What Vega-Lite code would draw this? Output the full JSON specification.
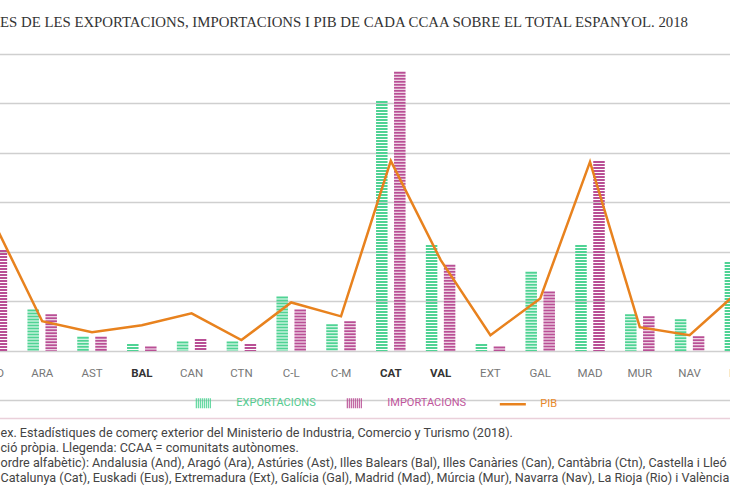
{
  "$schema": "https://vega.github.io/schema/vega-lite/v6.json",
  "width": 846.6,
  "height": 364,
  "autosize": {"type": "none"},
  "padding": {"left": -32.5, "top": 54, "right": -84.1, "bottom": 82},
  "background": "white",
  "title": {
    "text": "ES DE LES EXPORTACIONS, IMPORTACIONS I PIB DE CADA CCAA SOBRE EL TOTAL ESPANYOL. 2018",
    "anchor": "start",
    "frame": "group",
    "dx": 32.5,
    "offset": 12,
    "baseline": "alphabetic",
    "font": "Liberation Serif",
    "fontSize": 14.8,
    "fontWeight": "normal",
    "color": "#333333"
  },
  "data": {
    "values": [
      {"ccaa": "AND", "exp": 10.5, "imp": 10.2, "pib": 13.3},
      {"ccaa": "ARA", "exp": 4.2, "imp": 3.7, "pib": 3.0},
      {"ccaa": "AST", "exp": 1.45, "imp": 1.45, "pib": 1.9},
      {"ccaa": "BAL", "exp": 0.7, "imp": 0.45, "pib": 2.6},
      {"ccaa": "CAN", "exp": 0.95, "imp": 1.2, "pib": 3.8},
      {"ccaa": "CTN", "exp": 0.95, "imp": 0.7, "pib": 1.1},
      {"ccaa": "C-L", "exp": 5.5, "imp": 4.2, "pib": 4.9},
      {"ccaa": "C-M", "exp": 2.7, "imp": 3.0, "pib": 3.5},
      {"ccaa": "CAT", "exp": 25.25, "imp": 28.2, "pib": 19.2},
      {"ccaa": "VAL", "exp": 10.7, "imp": 8.7, "pib": 9.2},
      {"ccaa": "EXT", "exp": 0.7, "imp": 0.45, "pib": 1.6},
      {"ccaa": "GAL", "exp": 8.0, "imp": 6.0, "pib": 5.3},
      {"ccaa": "MAD", "exp": 10.7, "imp": 19.2, "pib": 19.1},
      {"ccaa": "MUR", "exp": 3.7, "imp": 3.5, "pib": 2.4},
      {"ccaa": "NAV", "exp": 3.2, "imp": 1.5, "pib": 1.6},
      {"ccaa": "EUS", "exp": 9.0, "imp": 7.4, "pib": 6.1},
      {"ccaa": "RIO", "exp": 0.7, "imp": 0.5, "pib": 0.7}
    ]
  },
  "encoding": {
    "x": {
      "field": "ccaa",
      "type": "nominal",
      "sort": null,
      "scale": {
        "domain": ["AND", "ARA", "AST", "BAL", "CAN", "CTN", "C-L", "C-M", "CAT", "VAL", "EXT", "GAL", "MAD", "MUR", "NAV", "EUS", "RIO"],
        "paddingInner": 0,
        "paddingOuter": 0
      },
      "axis": {
        "orient": "bottom",
        "labelAngle": 0,
        "ticks": false,
        "tickSize": 0,
        "labelPadding": -41.3,
        "labelBaseline": "alphabetic",
        "labelFont": "Roboto",
        "labelFontSize": 11.5,
        "labelFontWeight": {"condition": {"test": "indexof(['BAL','CAT','VAL'], datum.value) >= 0", "value": "bold"}, "value": "normal"},
        "labelColor": {"condition": {"test": "indexof(['BAL','CAT','VAL'], datum.value) >= 0", "value": "#333333"}, "value": "#777777"},
        "domain": true,
        "domainColor": "#ead0da",
        "domainWidth": 1.5,
        "grid": false,
        "title": [
          "ex. Estadístiques de comerç exterior del Ministerio de Industria, Comercio y Turismo (2018).",
          "ció pròpia. Llegenda: CCAA = comunitats autònomes.",
          "ordre alfabètic): Andalusia (And), Aragó (Ara), Astúries (Ast), Illes Balears (Bal), Illes Canàries (Can), Cantàbria (Ctn), Castella i Lleó (C-L),",
          " Catalunya (Cat), Euskadi (Eus), Extremadura (Ext), Galícia (Gal), Madrid (Mad), Múrcia (Mur), Navarra (Nav), La Rioja (Rio) i València (Val)."
        ],
        "titleX": 32.5,
        "titleY": 18,
        "titleAlign": "left",
        "titleAnchor": "start",
        "titleBaseline": "alphabetic",
        "titleAngle": 0,
        "titleFont": "Roboto",
        "titleFontSize": 12.6,
        "titleFontWeight": "normal",
        "titleColor": "#444444",
        "titleLineHeight": 15
      }
    }
  },
  "layer": [
    {
      "mark": {"type": "rule", "xOffset": -9, "strokeWidth": 11.5, "strokeDash": [2, 1], "strokeCap": "butt"},
      "encoding": {
        "y": {"field": "exp", "type": "quantitative", "title": null, "scale": {"domain": [-6.77, 30], "nice": false, "zero": false}},
        "y2": {"datum": 0},
        "stroke": {
          "datum": "EXPORTACIONS",
          "type": "nominal",
          "scale": {"domain": ["EXPORTACIONS", "IMPORTACIONS", "PIB"], "range": ["#4fd394", "#b94f95", "#e8821e"]},
          "legend": {
            "orient": "none",
            "legendX": 234.8,
            "legendY": 343.5,
            "direction": "horizontal",
            "columns": 3,
            "title": null,
            "padding": 0,
            "symbolSize": 576,
            "labelOffset": 23,
            "columnPadding": 28,
            "labelFont": "Roboto",
            "labelFontSize": 11,
            "labelLimit": 200,
            "encode": {
              "symbols": {
                "update": {
                  "shape": {"signal": "datum.value === 'PIB' ? 'M-1,0H1.17' : 'M-0.958,-0.417V0.417M-0.792,-0.417V0.417M-0.625,-0.417V0.417M-0.458,-0.417V0.417M-0.292,-0.417V0.417M-0.125,-0.417V0.417M0.042,-0.417V0.417M0.208,-0.417V0.417'"},
                  "strokeWidth": {"signal": "datum.value === 'PIB' ? 2.5 : 1.1"},
                  "fill": {"value": "transparent"},
                  "opacity": {"value": 1}
                }
              },
              "labels": {
                "update": {
                  "fill": {"signal": "datum.value === 'PIB' ? '#e8892c' : datum.value === 'EXPORTACIONS' ? '#55cc90' : '#c0559c'"}
                }
              }
            }
          }
        }
      }
    },
    {
      "mark": {"type": "rule", "xOffset": 9, "strokeWidth": 11.5, "strokeDash": [2, 1], "strokeCap": "butt"},
      "encoding": {
        "y": {"field": "imp", "type": "quantitative", "title": null},
        "y2": {"datum": 0},
        "stroke": {"datum": "IMPORTACIONS", "type": "nominal"}
      }
    },
    {
      "mark": {"type": "line", "strokeWidth": 2.5, "strokeJoin": "miter"},
      "encoding": {
        "y": {"field": "pib", "type": "quantitative", "title": null},
        "stroke": {"datum": "PIB", "type": "nominal"}
      }
    }
  ],
  "config": {
    "view": {"stroke": null},
    "axisY": {
      "values": [0, 5, 10, 15, 20, 25, 30],
      "grid": true,
      "gridColor": "#cfcfcf",
      "gridWidth": 1.4,
      "labels": false,
      "ticks": false,
      "domain": false,
      "title": null
    }
  }
}
